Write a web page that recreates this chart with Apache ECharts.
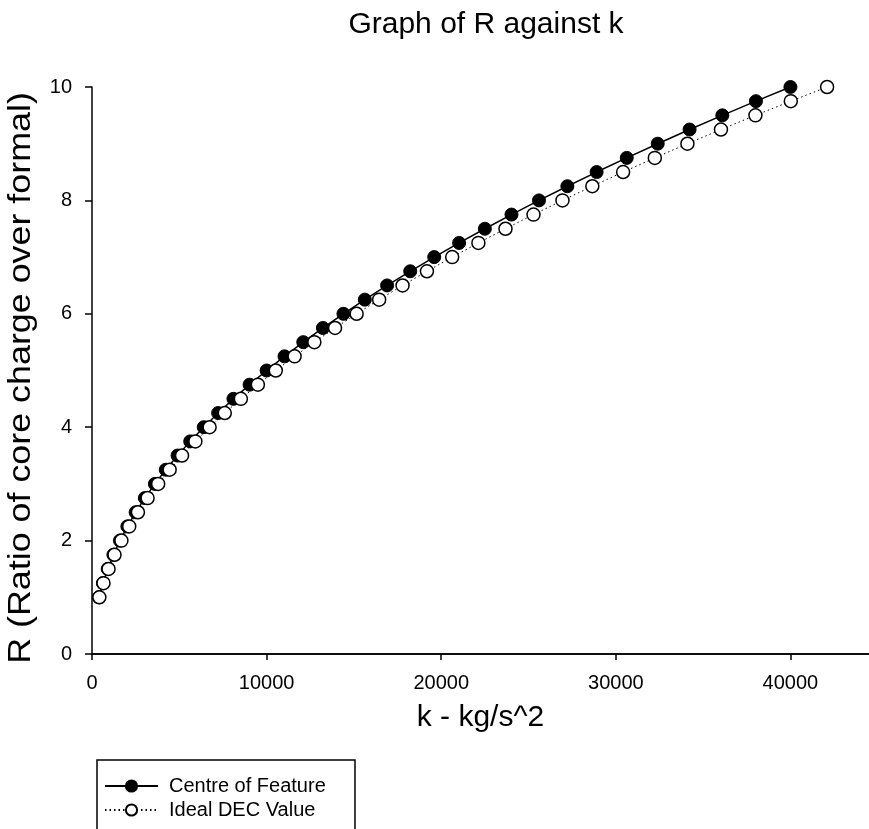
<!DOCTYPE html>
<html>
<head>
<meta charset="utf-8">
<script src="https://cdn.jsdelivr.net/npm/echarts@6/dist/echarts.min.js"></script>
<style>
html,body{margin:0;padding:0;background:#fff;}
#c{width:869px;height:829px;}
</style>
</head>
<body>
<div id="c"></div>
<script>
// R values (y)
var rValues = [1, 1.25, 1.5, 1.75, 2, 2.25, 2.5, 2.75, 3, 3.25, 3.5, 3.75, 4, 4.25, 4.5, 4.75, 5, 5.25, 5.5, 5.75, 6, 6.25, 6.5, 6.75, 7, 7.25, 7.5, 7.75, 8, 8.25, 8.5, 8.75, 9, 9.25, 9.5, 9.75, 10];
// k values for "Centre of Feature" (x)
var kCentre = [400, 625, 900, 1225, 1600, 2025, 2500, 3025, 3600, 4225, 4900, 5625, 6400, 7225, 8100, 9025, 10000, 11025, 12100, 13225, 14400, 15625, 16900, 18225, 19600, 21025, 22500, 24025, 25600, 27225, 28900, 30625, 32400, 34225, 36100, 38025, 40000];
// k values for "Ideal DEC Value" (x)
var kIdeal = [421, 658, 947, 1289, 1684, 2131, 2631, 3184, 3789, 4447, 5157, 5920, 6736, 7604, 8525, 9499, 10525, 11604, 12735, 13919, 15156, 16445, 17787, 19182, 20629, 22129, 23681, 25286, 26944, 28654, 30417, 32233, 34101, 36022, 37995, 40021, 42100];

var seriesNames = ['Centre of Feature', 'Ideal DEC Value'];
var titleText = 'Graph of R against k';
var xName = 'k - kg/s^2';
var yName = 'R (Ratio of core charge over formal)';

function pairs(xs, ys) {
  var out = [];
  for (var i = 0; i < xs.length; i++) out.push([xs[i], ys[i]]);
  return out;
}

var FONT = '"Liberation Sans", Arial, sans-serif';
var legendCommon = {
  orient: 'horizontal', padding: 0,
  itemWidth: 53, itemHeight: 14,
  textStyle: {fontSize: 20, fontFamily: FONT, color: '#000', padding: [0, 0, 0, 6]}
};
var chart = echarts.init(document.getElementById('c'), null, {renderer: 'canvas'});
chart.setOption({
  animation: false,
  backgroundColor: '#ffffff',
  textStyle: {fontFamily: FONT, color: '#000'},
  graphic: [{
    type: 'text',
    x: 486, y: 10,
    style: {text: titleText, font: '30px ' + FONT, fill: '#000', textAlign: 'center', textVerticalAlign: 'top'}
  }, {
    type: 'text',
    x: 21, y: 378, rotation: Math.PI / 2, scaleX: 1.12,
    style: {text: yName, font: '32px ' + FONT, fill: '#000', textAlign: 'center', textVerticalAlign: 'middle'}
  }, {
    type: 'rect',
    shape: {x: 97, y: 760, width: 258, height: 120},
    style: {fill: 'none', stroke: '#000', lineWidth: 1.5}
  }],
  grid: {left: 92, right: 0, top: 87, bottom: 175, containLabel: false, outerBoundsMode: 'none'},
  legend: [
    Object.assign({left: 104, top: 776, data: [seriesNames[0]]}, legendCommon),
    Object.assign({left: 104, top: 800, data: [seriesNames[1]]}, legendCommon)
  ],
  xAxis: [{
    type: 'value', min: 0, max: 44500, interval: 10000,
    name: xName, nameLocation: 'middle', nameGap: 49,
    nameTextStyle: {fontSize: 30, fontFamily: FONT, color: '#000'},
    axisLine: {show: true, onZero: false, lineStyle: {color: '#000', width: 1.5}},
    axisTick: {show: true, length: 6, lineStyle: {color: '#000', width: 1.5}},
    axisLabel: {fontSize: 20, fontFamily: FONT, color: '#000', margin: 19,
      showMaxLabel: false, formatter: function (v) { return String(v); }},
    splitLine: {show: false}
  }, {
    type: 'value', position: 'top', min: 0, max: 44500,
    axisLine: {show: true, lineStyle: {color: '#000', width: 1.5}},
    axisTick: {show: false}, axisLabel: {show: false}, splitLine: {show: false}
  }],
  yAxis: {
    type: 'value', min: 0, max: 10, interval: 2,
    axisLine: {show: true, onZero: false, lineStyle: {color: '#000', width: 1.5}},
    axisTick: {show: true, length: 7, lineStyle: {color: '#000', width: 1.5}},
    axisLabel: {fontSize: 20, fontFamily: FONT, color: '#000', margin: 20},
    splitLine: {show: false}
  },
  series: [{
    name: seriesNames[0], type: 'line', xAxisIndex: 0,
    data: pairs(kCentre, rValues),
    symbol: 'circle', symbolSize: 13,
    lineStyle: {color: '#000', width: 1.5, type: 'solid'},
    itemStyle: {color: '#000', borderColor: '#000', borderWidth: 1},
    z: 2
  }, {
    name: seriesNames[1], type: 'line', xAxisIndex: 0,
    data: pairs(kIdeal, rValues),
    symbol: 'circle', symbolSize: 13,
    lineStyle: {color: '#000', width: 1, type: [1.5, 3]},
    itemStyle: {color: '#fff', borderColor: '#000', borderWidth: 1.5},
    z: 3
  }]
});
</script>
</body>
</html>
